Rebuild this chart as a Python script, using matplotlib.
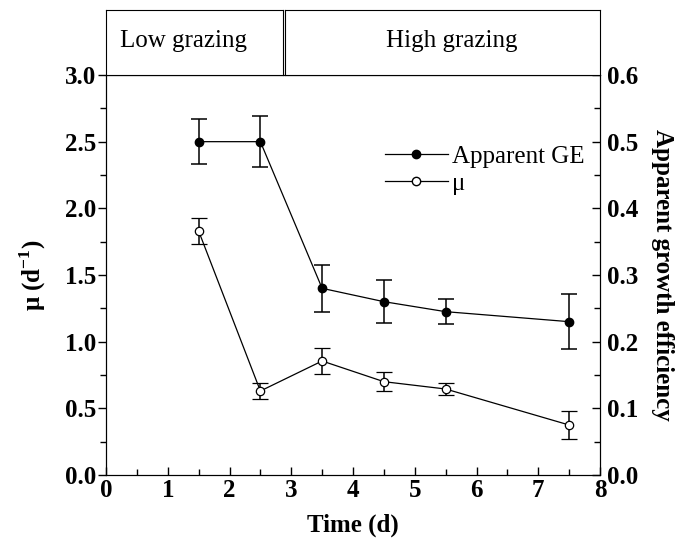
import matplotlib
matplotlib.use("Agg")
import matplotlib.pyplot as plt
from matplotlib.lines import Line2D

plt.rcParams["font.family"] = ["Liberation Serif", "DejaVu Serif"]
plt.rcParams["mathtext.fontset"] = "custom"
plt.rcParams["mathtext.rm"] = "Liberation Serif"
plt.rcParams["mathtext.bf"] = "Liberation Serif:bold"

time = [1.5, 2.5, 3.5, 4.5, 5.5, 7.5]
# growth rate mu (d^-1), left axis
mu = [1.83, 0.63, 0.855, 0.70, 0.645, 0.375]
mu_err = [0.10, 0.06, 0.10, 0.07, 0.045, 0.105]
# apparent growth efficiency, right axis
ge = [0.50, 0.50, 0.28, 0.26, 0.245, 0.23]
ge_err = [0.034, 0.038, 0.035, 0.032, 0.019, 0.041]

W, H = 690, 548
fig = plt.figure(figsize=(W / 100, H / 100), dpi=100)

def fx(px):
    return px / W

def fy(py):
    return 1 - py / H

ax = fig.add_axes([fx(106), fy(475), fx(600) - fx(106), fy(75) - fy(475)])
ax2 = ax.twinx()

ax.errorbar(time, mu, yerr=mu_err, fmt="-", color="black", lw=0.9, elinewidth=1.1,
            capsize=6, capthick=1.1, marker="o", markersize=6,
            markerfacecolor="white", markeredgecolor="black", markeredgewidth=0.9)
ax2.errorbar(time, ge, yerr=ge_err, fmt="-", color="black", lw=0.9, elinewidth=1.1,
             capsize=6, capthick=1.1, marker="o", markersize=6,
             markerfacecolor="black", markeredgecolor="black")

ax.set_xlim(0, 8)
ax.set_ylim(0, 3.0)
ax2.set_ylim(0, 0.6)
ax.set_xticks(range(0, 9))
ax.set_xticks([i + 0.5 for i in range(8)], minor=True)
ax.set_yticks([0, 0.5, 1.0, 1.5, 2.0, 2.5, 3.0])
ax.set_yticks([0.25, 0.75, 1.25, 1.75, 2.25, 2.75], minor=True)
ax2.set_yticks([0, 0.1, 0.2, 0.3, 0.4, 0.5, 0.6])
ax2.set_yticks([0.05, 0.15, 0.25, 0.35, 0.45, 0.55], minor=True)
ax.yaxis.set_major_formatter(plt.FormatStrFormatter("%.1f"))
ax2.yaxis.set_major_formatter(plt.FormatStrFormatter("%.1f"))

ax.tick_params(axis="x", which="both", direction="in", top=False, labelsize=18, pad=3)
ax.tick_params(axis="x", which="major", length=6, width=1)
ax.tick_params(axis="x", which="minor", length=4, width=1)
ax.tick_params(axis="y", which="major", direction="out", length=6, width=1, labelsize=18, pad=1)
ax.tick_params(axis="y", which="minor", direction="out", length=4, width=1)
ax2.tick_params(axis="y", which="major", direction="in", length=6, width=1, labelsize=18, pad=5)
ax2.tick_params(axis="y", which="minor", direction="in", length=4, width=1)
for lab in ax.get_xticklabels() + ax.get_yticklabels() + ax2.get_yticklabels():
    lab.set_fontweight("bold")

ax.set_xlabel("Time (d)", fontsize=18, fontweight="bold", labelpad=8)
ax.set_ylabel(r"μ (d$^{\mathbf{-1}}$)", fontsize=18, fontweight="bold", labelpad=12)
ax2.set_ylabel("Apparent growth efficiency", fontsize=18, fontweight="bold",
               rotation=270, labelpad=26)

handles = [
    Line2D([], [], color="black", lw=0.9, marker="o", markersize=6,
           markerfacecolor="black", markeredgecolor="black"),
    Line2D([], [], color="black", lw=0.9, marker="o", markersize=6,
           markerfacecolor="white", markeredgecolor="black"),
]
ax.legend(handles, ["Apparent GE", "μ"], loc="upper left", frameon=False,
          bbox_to_anchor=(fx(385), fy(145)), bbox_transform=fig.transFigure,
          fontsize=18, handlelength=2.5, handletextpad=0.2, labelspacing=0.2,
          borderaxespad=0, borderpad=0)

# treatment boxes above the plot
low = fig.add_axes([fx(106), fy(75), fx(283) - fx(106), fy(10) - fy(75)])
high = fig.add_axes([fx(285), fy(75), fx(600) - fx(285), fy(10) - fy(75)])
for b in (low, high):
    b.set_xticks([])
    b.set_yticks([])
low.text(0.44, 0.52, "Low grazing", ha="center", va="center", fontsize=18, transform=low.transAxes)
high.text(0.53, 0.52, "High grazing", ha="center", va="center", fontsize=18, transform=high.transAxes)

fig.savefig("out.png", dpi=100)
